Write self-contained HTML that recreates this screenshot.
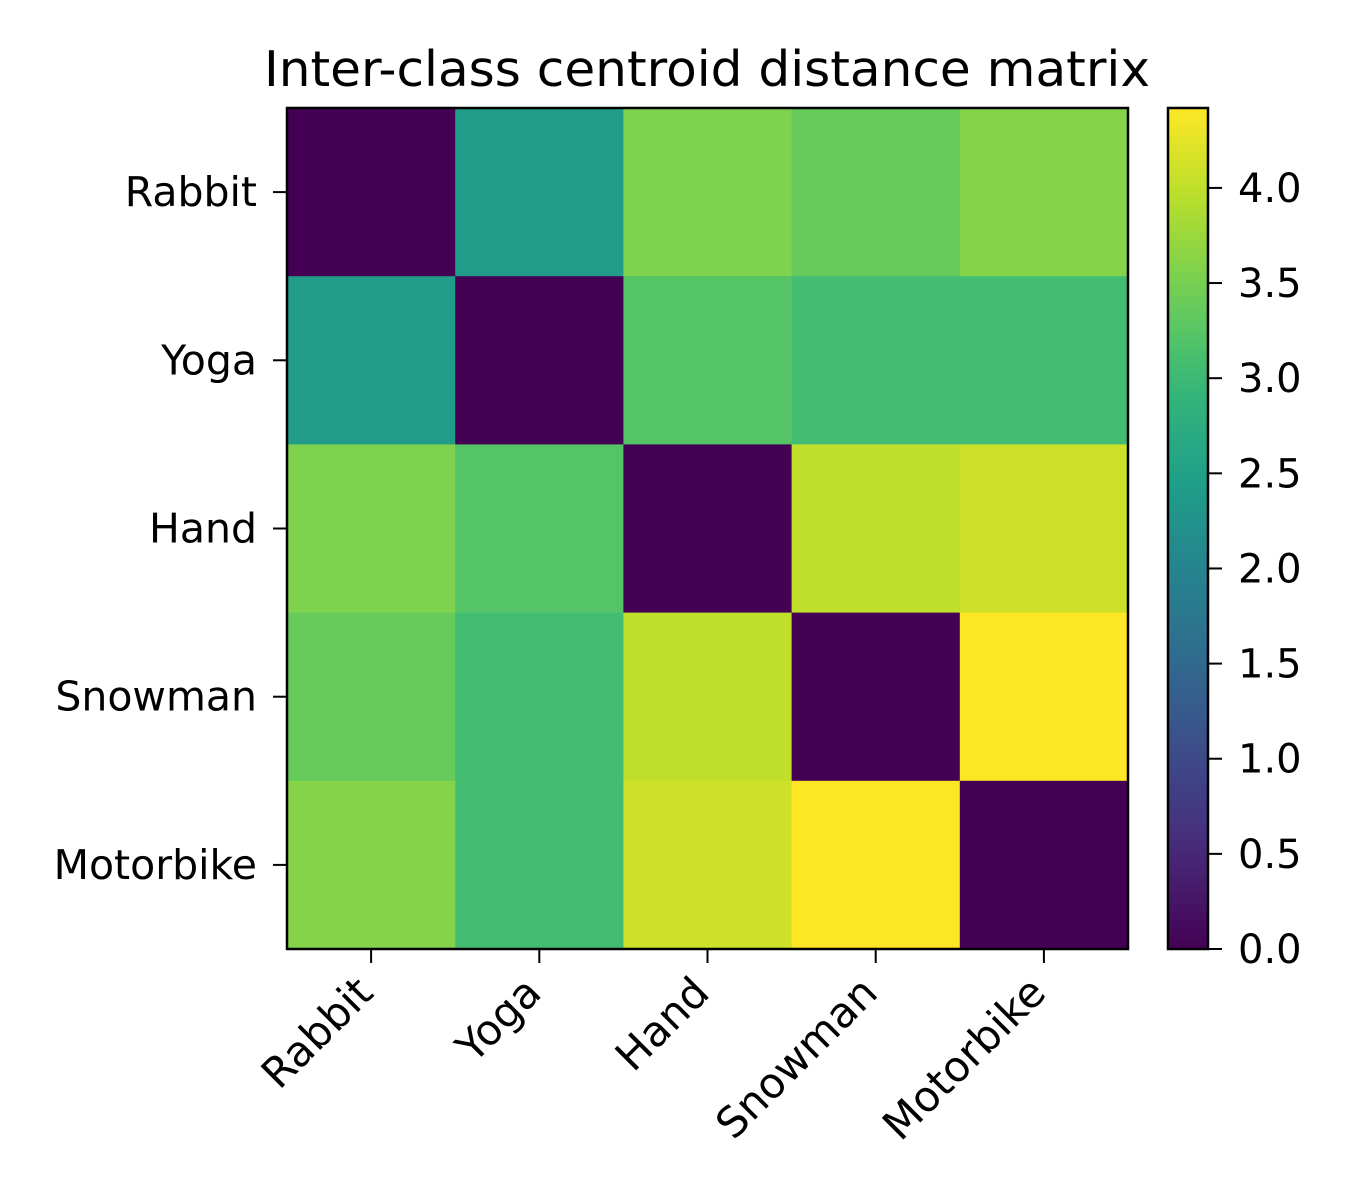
<!DOCTYPE html>
<html><head><meta charset="utf-8"><style>
html,body{margin:0;padding:0;background:#fff;}
svg{display:block;font-family:"DejaVu Sans","Liberation Sans",sans-serif;}
</style></head><body>
<svg id="chart" width="1350" height="1200" viewBox="0 0 1350 1200">
<defs><linearGradient id="vir" x1="0" y1="1" x2="0" y2="0"></linearGradient></defs>
<text x="707" y="86" text-anchor="middle" font-size="49" fill="#000" textLength="886" lengthAdjust="spacingAndGlyphs">Inter-class centroid distance matrix</text>
<g id="cells"></g>
<g id="axes"></g>
</svg>
<script>
const categories = ["Rabbit","Yoga","Hand","Snowman","Motorbike"];
const row0 = [0, 2.42, 3.55, 3.38, 3.6];
const row1 = [2.42, 0, 3.22, 3.07, 3.07];
const row2 = [3.55, 3.22, 0, 4.0, 4.1];
const row3 = [3.38, 3.07, 4.0, 0, 4.42];
const row4 = [3.6, 3.07, 4.1, 4.42, 0];
const cbTicks = [0, 0.5, 1.0, 1.5, 2.0, 2.5, 3.0, 3.5, 4.0];
const vmax = 4.42;

const rows = [row0,row1,row2,row3,row4];
const NS = "http://www.w3.org/2000/svg";
const stops = ["#440154","#482878","#3e4989","#31688e","#26828e","#1f9e89","#35b779","#6ece58","#b5de2b","#fde725"];
function hex(h){return [1,3,5].map(i=>parseInt(h.substr(i,2),16));}
function viridis(t){t=Math.max(0,Math.min(1,t));const p=t*9,i=Math.min(8,Math.floor(p)),f=p-i;const a=hex(stops[i]),b=hex(stops[i+1]);return "rgb("+a.map((v,k)=>Math.round(v+(b[k]-v)*f)).join(",")+")";}
function mk(tag,attrs,parent){const e=document.createElementNS(NS,tag);for(const k in attrs)e.setAttribute(k,attrs[k]);parent.appendChild(e);return e;}
const X0=287,Y0=108,W=841,H=841,n=categories.length,cw=W/n,ch=H/n;
const xs=i=>X0+cw*i, ys=i=>Y0+ch*i;
const cells=document.getElementById("cells"), axes=document.getElementById("axes");
rows.forEach((r,i)=>r.forEach((v,j)=>{
  const c=mk("rect",{x:xs(j),y:ys(i),width:cw+0.5,height:ch+0.5,fill:viridis(v/vmax)},cells);
  
  
}));
const frame=mk("rect",{x:X0,y:Y0,width:W,height:H,fill:"none",stroke:"#000","stroke-width":2.5},axes);


categories.forEach((c,i)=>{
  const cx=xs(i)+cw/2, cy=ys(i)+ch/2;
  mk("line",{x1:cx,y1:Y0+H,x2:cx,y2:Y0+H+14,stroke:"#000","stroke-width":2},axes);
  mk("line",{x1:X0-14,y1:cy,x2:X0,y2:cy,stroke:"#000","stroke-width":2},axes);
  const yl=mk("text",{x:X0-30,y:cy+14,"text-anchor":"end","font-size":41},axes);
  yl.textContent=c;
  
  
  const xl=mk("text",{x:cx+4,y:Y0+H+46,"text-anchor":"end","font-size":42,transform:`rotate(-45 ${cx+4} ${Y0+H+46})`},axes);
  xl.textContent=c;
  
  
});
const g=document.getElementById("vir");
for(let k=0;k<=20;k++){mk("stop",{offset:k/20,"stop-color":viridis(k/20)},g);}
const CX=1168,CW=40;
const cy2=v=>Y0+H-(v/vmax)*H;
const cb=mk("rect",{x:CX,y:Y0,width:CW,height:H,fill:"url(#vir)",stroke:"#000","stroke-width":2.5},axes);


cbTicks.forEach(v=>{
  const y=cy2(v);
  mk("line",{x1:CX+CW,y1:y,x2:CX+CW+14,y2:y,stroke:"#000","stroke-width":2},axes);
  const t=mk("text",{x:CX+CW+30,y:y+14,"font-size":40},axes);
  t.textContent=v.toFixed(1);
  
  
});
</script>
</body></html>
